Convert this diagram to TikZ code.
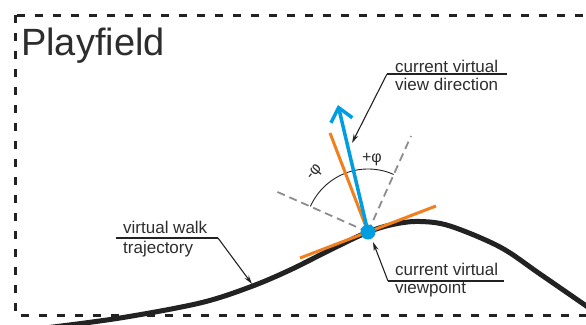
\documentclass[tikz,border=0pt]{standalone}
\usepackage{fontspec}
\setmainfont{Liberation Sans}
\usetikzlibrary{arrows.meta}
\definecolor{ink}{RGB}{34,34,34}
\definecolor{txt}{RGB}{45,45,45}
\definecolor{vblue}{RGB}{0,158,224}
\definecolor{vorange}{RGB}{240,128,30}
\definecolor{dgrey}{RGB}{140,140,140}
\tikzset{
  frame/.style={draw=ink, line width=3pt, dash pattern=on 8pt off 10pt},
  walk/.style={draw=ink, line width=5pt},
  orangeline/.style={draw=vorange, line width=3pt},
  limitline/.style={draw=dgrey, line width=1.8pt, dash pattern=on 8pt off 5pt},
  leader/.style={draw=ink, line width=1.1pt},
  leaderarrow/.style={leader, -{Stealth[length=9pt,width=5pt]}},
  lbl/.style={font=\fontsize{17}{20}\selectfont, text=txt, anchor=base west, inner sep=0pt},
  philbl/.style={font=\fontsize{16}{18}\selectfont, text=txt, inner sep=0pt},
}
\begin{document}
\begin{tikzpicture}[x=1pt,y=-1pt]
\useasboundingbox (0,0) rectangle (586,324);
\begin{scope}
\clip (0,0) rectangle (586,324);
\draw[frame] (15,15) rectangle (620,315);
\node[font=\fontsize{38}{44}\selectfont, text=txt, anchor=base west, inner sep=0pt] (title) at (21,55) {Playfield};
% trajectory
\draw[walk] plot[smooth, tension=0.55] coordinates {(45,328) (120,318) (200,303) (250,287) (290,270) (330,250) (368,232) (395,224) (420,221.5) (450,226) (500,247) (540,274) (595,312)};
\coordinate (vp) at (368,232);
\coordinate (tanA) at (300,258);
\coordinate (tanB) at (436,206);
\coordinate (nrm) at (330,133);
\coordinate (dirtip) at (338,105);
\coordinate (limL) at (273,190);
\coordinate (limR) at (411,136);
\draw[orangeline] (tanA) -- (tanB);
\draw[limitline] (vp) -- (limL);
\draw[limitline] (vp) -- (limR);
\draw[ink, line width=0.9pt] plot[domain=66:156, samples=50] ({368+63*cos(\x)},{232-63*sin(\x)});
\node[philbl, rotate=50] (mphi) at (315,173) {-φ};
\node[philbl] (pphi) at (372,160) {+φ};
\draw[orangeline] (vp) -- (nrm);
\draw[draw=vblue, line width=3.5pt, -{Straight Barb[length=13pt,width=22pt,line width=3.5pt]}] (vp) -- (dirtip);
\node[circle, fill=vblue, minimum size=15pt, inner sep=0pt] (vpdot) at (vp) {};
% labels
\node[lbl] (vd1) at (395,72) {current virtual};
\node[lbl] (vd2) at (395,90) {view direction};
\coordinate (vdA) at (507,74);
\coordinate (vdB) at (387,74);
\coordinate (vdT) at (352,143);
\draw[leader] (vdA) -- (vdB);
\draw[leaderarrow] (vdB) -- (vdT);
\node[lbl] (tr1) at (123,233) {virtual walk};
\node[lbl] (tr2) at (123,253) {trajectory};
\coordinate (trA) at (116,238);
\coordinate (trB) at (218,238);
\coordinate (trT) at (252,284);
\draw[leader] (trA) -- (trB);
\draw[leaderarrow] (trB) -- (trT);
\node[lbl] (vp1) at (395,275) {current virtual};
\node[lbl] (vp2) at (395,293) {viewpoint};
\coordinate (vpA) at (504,281);
\coordinate (vpB) at (388,281);
\coordinate (vpT) at (373,242);
\draw[leader] (vpA) -- (vpB);
\draw[leaderarrow] (vpB) -- (vpT);
\end{scope}
\end{tikzpicture}
\end{document}
